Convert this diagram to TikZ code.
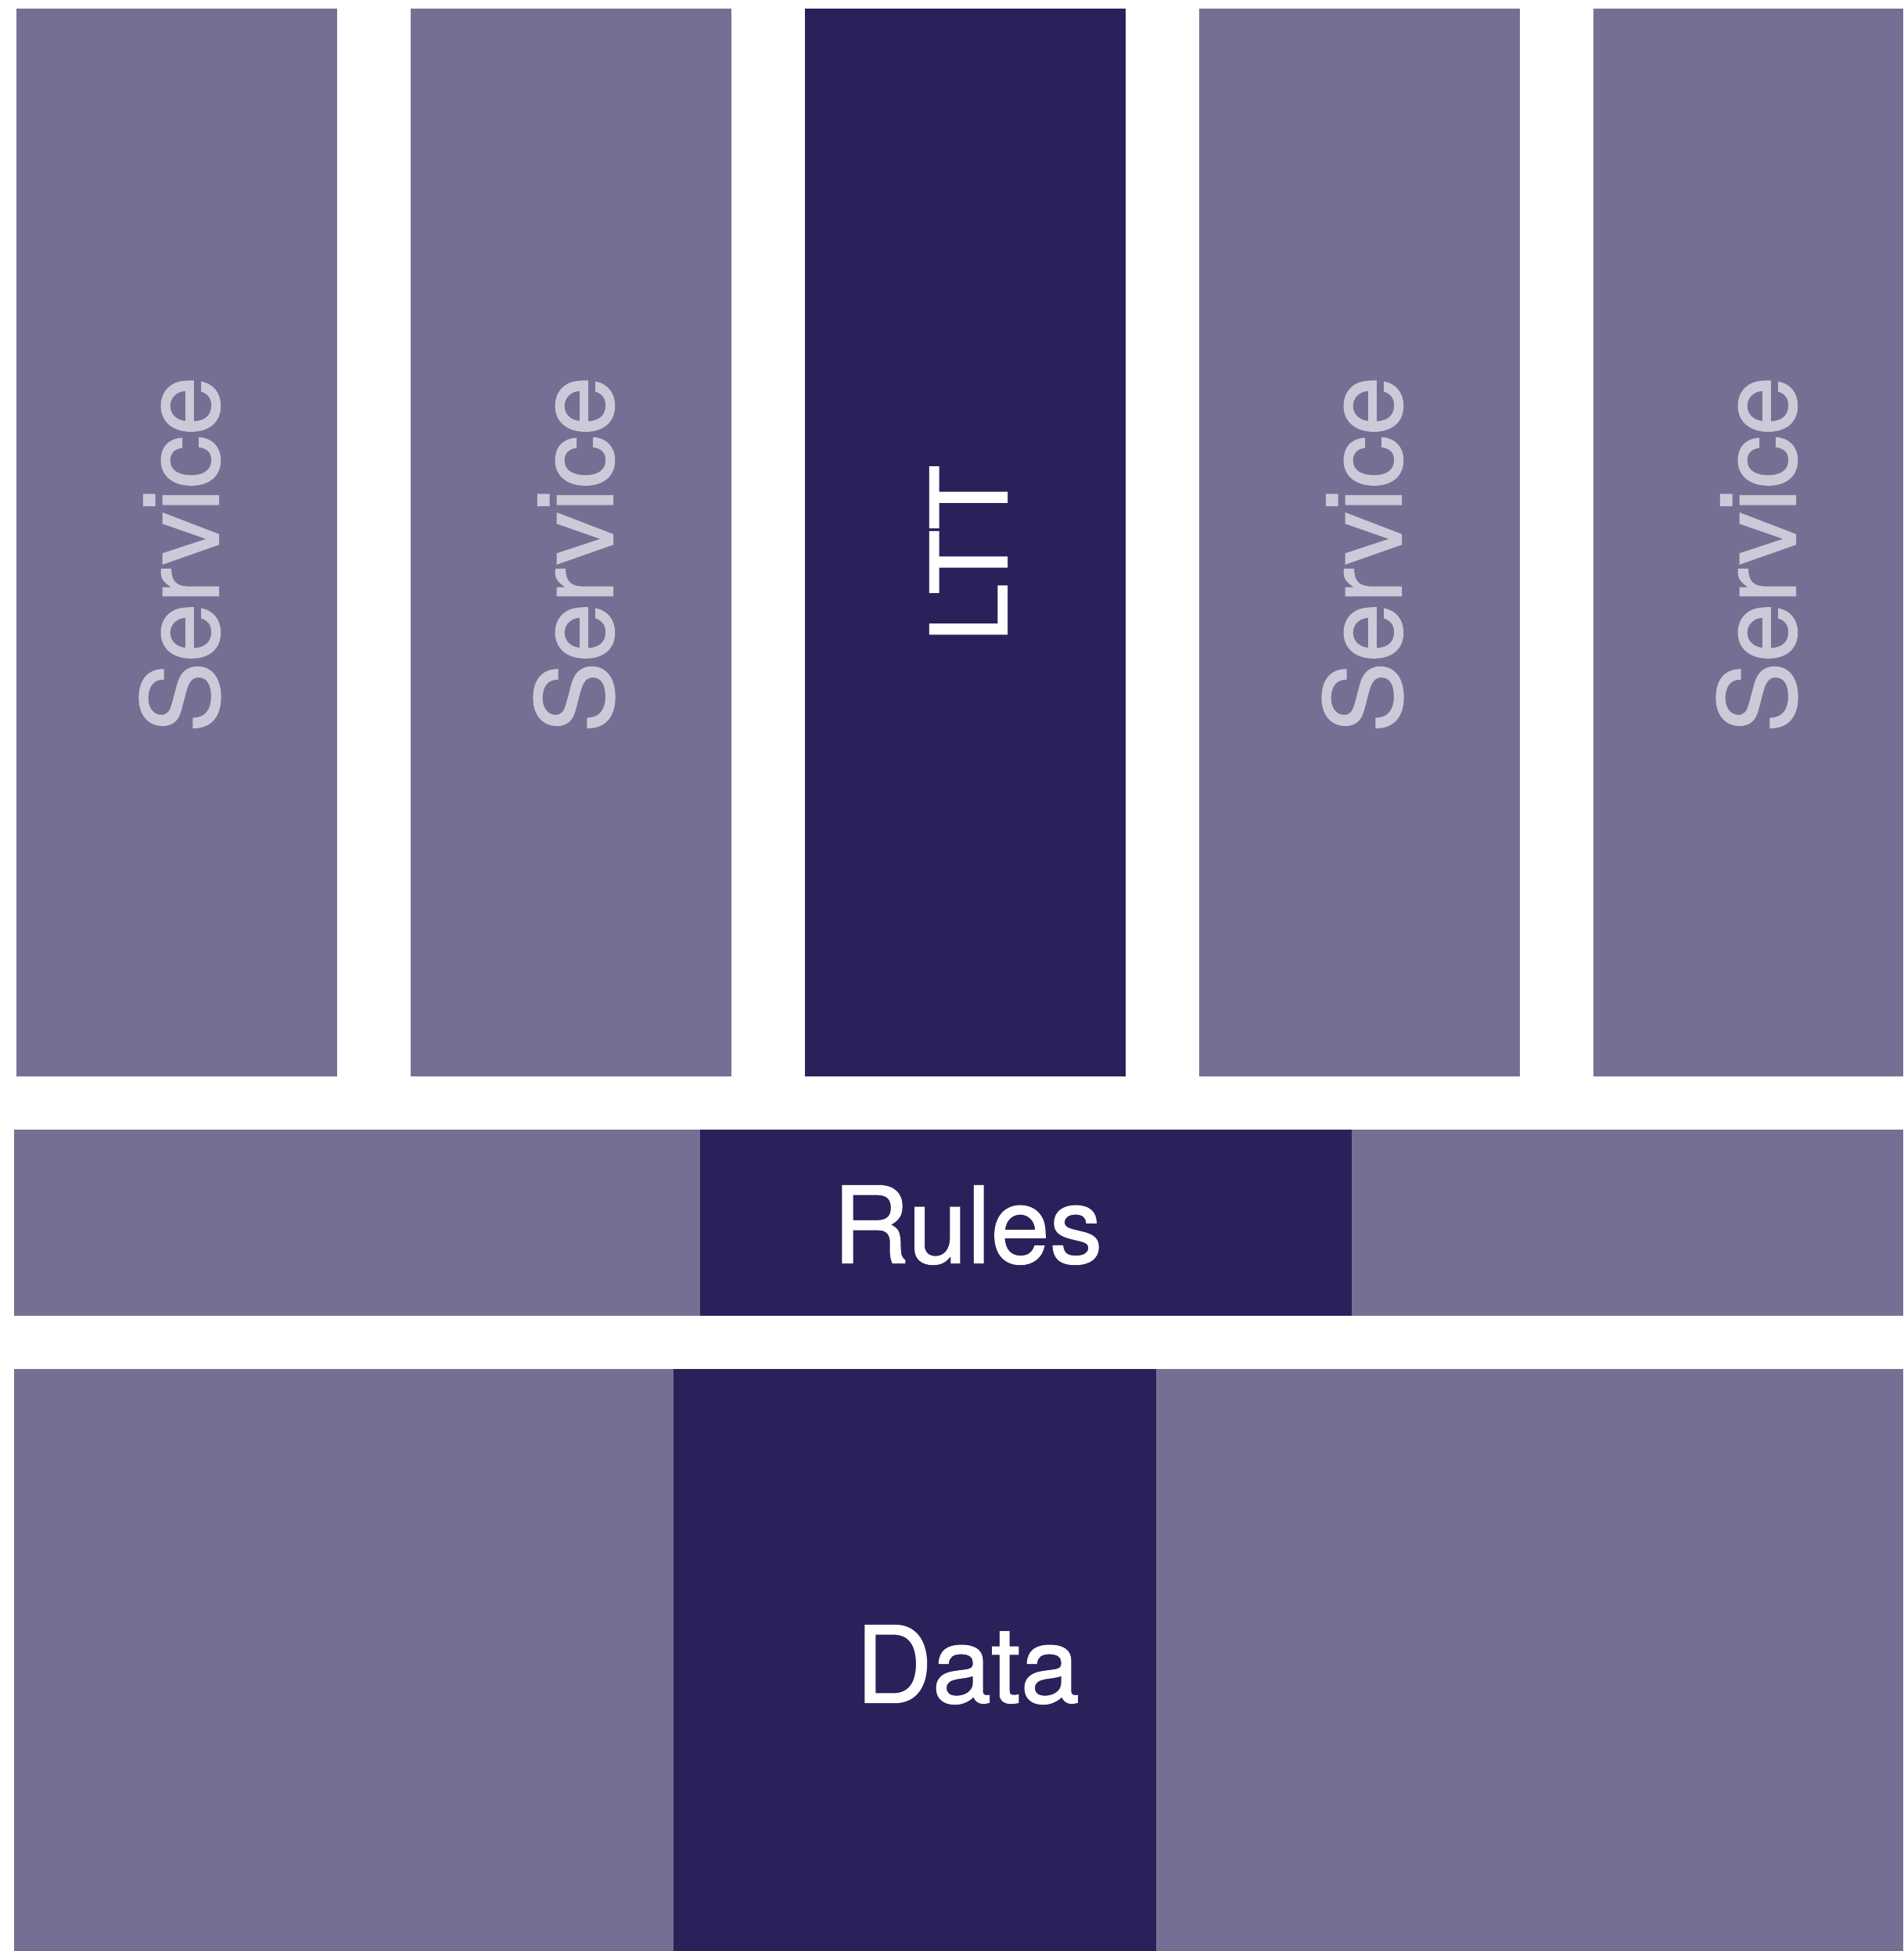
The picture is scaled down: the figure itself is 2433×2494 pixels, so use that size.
\documentclass[tikz,border=0pt]{standalone}
\usepackage{fontspec}
\setmainfont[FakeBold=1.2]{TeX Gyre Heros}
\definecolor{lightcol}{HTML}{757093}
\definecolor{darkcol}{HTML}{29225A}
\definecolor{svctext}{HTML}{CBCAD9}
\begin{document}
\begin{tikzpicture}[x=0.01cm,y=-0.01cm,
  blk/.style={inner sep=0pt,outer sep=0pt,draw=none},
  lbl/.style={inner sep=0pt,font=\fontsize{38.5}{38.5}\selectfont},
  svc/.style={lbl,text=svctext,rotate=90},
  wlbl/.style={lbl,text=white}]
\useasboundingbox (0,0) rectangle (2433,2494);
\fill[white] (0,0) rectangle (2433,2494);
% top columns
\path[fill=lightcol] (21,11) rectangle (431,1376) coordinate (c1);
\path[fill=lightcol] (525,11) rectangle (935,1376) coordinate (c2);
\path[fill=darkcol] (1029,11) rectangle (1439,1376) coordinate (c3);
\path[fill=lightcol] (1533,11) rectangle (1943,1376) coordinate (c4);
\path[fill=lightcol] (2037,11) rectangle (2433,1376) coordinate (c5);
% rules band
\path[fill=lightcol] (18,1444) rectangle (895,1682) coordinate (r1);
\path[fill=darkcol] (895,1444) rectangle (1728,1682) coordinate (r2);
\path[fill=lightcol] (1728,1444) rectangle (2433,1682) coordinate (r3);
% data band
\path[fill=lightcol] (18,1750) rectangle (861,2494) coordinate (d1);
\path[fill=darkcol] (861,1750) rectangle (1478,2494) coordinate (d2);
\path[fill=lightcol] (1478,1750) rectangle (2433,2494) coordinate (d3);
% labels
\node[svc] (s1) at (230,709) {Service};
\node[svc] (s2) at (734,709) {Service};
\node[lbl,text=white,rotate=90] (ltt) at (1238,708) {LTT};
\node[svc] (s4) at (1742,709) {Service};
\node[svc] (s5) at (2246,709) {Service};
\node[wlbl] (rules) at (1237,1566) {Rules};
\node[wlbl] (data) at (1237,2128) {Data};
\end{tikzpicture}
\end{document}
